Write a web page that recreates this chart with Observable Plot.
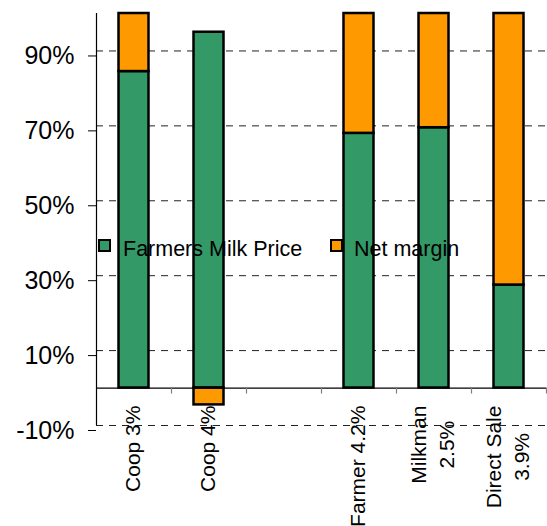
<!DOCTYPE html>
<html>
<head>
<meta charset="utf-8">
<script src="https://cdn.jsdelivr.net/npm/d3@7"></script>
<script src="https://cdn.jsdelivr.net/npm/@observablehq/plot@0.6"></script>
<style>
  html, body { margin: 0; padding: 0; background: #fff; }
  #chart { position: relative; width: 547px; height: 526px; font-family: "Liberation Sans", Arial, sans-serif; }
  .key { position: absolute; font-size: 21.5px; line-height: 21.5px; color: #000; white-space: nowrap; }
  .swatch { position: absolute; width: 13px; height: 13px; box-sizing: border-box; border: 2px solid #000; }
</style>
</head>
<body>
<div id="chart"></div>
<script>
// Share of the retail milk price, by sales channel
const categories = ["Coop 3%", "Coop 4%", "", "Farmer 4.2%", "Milkman\n2.5%", "Direct Sale\n3.9%"];
const milkPrice  = [84.5, 95, null, 68, 69.5, 27.5];   // Farmers Milk Price (%)
const netMargin  = [15.5, -4.5, null, 32, 30.5, 72.5]; // Net margin (%)
const yTicks     = [-10, 10, 30, 50, 70, 90];
const seriesNames = ["Farmers Milk Price", "Net margin"];
const seriesColors = ["#339966", "#FF9900"];

// Stacked segments: positives stack upward from zero, negatives hang below it
const segments = [];
categories.forEach((c, i) => {
  const p = milkPrice[i], m = netMargin[i];
  if (p == null) return;
  segments.push({i, series: seriesNames[0], y1: 0, y2: p});
  if (m >= 0) segments.push({i, series: seriesNames[1], y1: p, y2: p + m});
  else segments.push({i, series: seriesNames[1], y1: 0, y2: m});
});
const boundaries = d3.range(1, categories.length + 1);

const chart = Plot.plot({
  width: 547,
  height: 526,
  marginTop: 13,
  marginBottom: 101,
  marginLeft: 96,
  marginRight: 1,
  style: {fontFamily: "'Liberation Sans', Arial, sans-serif", fontSize: "25px", fontWeight: "normal", color: "#000", background: "#fff"},
  x: {domain: [0, categories.length], axis: null},
  y: {domain: [-10, 100], axis: null},
  color: {domain: seriesNames, range: seriesColors},
  marks: [
    Plot.ruleY(yTicks, {stroke: "#222", strokeDasharray: "7,6", strokeWidth: 1}),
    Plot.rectY(segments, {
      x1: d => d.i + 0.3, x2: d => d.i + 0.7,
      y1: "y1", y2: "y2",
      fill: "series", stroke: "#000", strokeWidth: 2.5
    }),
    Plot.ruleY([0], {stroke: "#000", strokeWidth: 1.2}),
    Plot.ruleX(boundaries, {x: d => d, y1: 0, y2: -1.6, stroke: "#808080", strokeWidth: 1.2}),
    Plot.ruleX([0], {stroke: "#000", strokeWidth: 1.2}),
    Plot.axisY({
      ticks: yTicks, tickFormat: d => d + "%", tickSize: 8, tickPadding: 14,
      fontSize: 25, dy: 5, label: null, color: "#000"
    }),
    Plot.text(categories.map((c, i) => ({c, i})), {
      x: d => d.i + 0.5, y: () => 0, text: "c",
      rotate: -90, textAnchor: "end", lineAnchor: "middle",
      fontSize: 21, lineHeight: 1.33, dx: -3, dy: 17.5, fill: "#000"
    })
  ]
});

const host = document.getElementById("chart");
host.appendChild(chart);

// Centre the lines of multi-line rotated labels on their longest line
chart.querySelectorAll("text[transform*='rotate']").forEach(t => {
  const spans = t.querySelectorAll("tspan");
  if (spans.length < 2) return;
  const L = Math.max(...[...spans].map(s => s.getComputedTextLength()));
  t.setAttribute("text-anchor", "middle");
  spans.forEach(s => s.setAttribute("x", -L / 2));
});

// Legend placed inside the plot area
const keyPos = [{sx: 98, tx: 123}, {sx: 330, tx: 354}];
seriesNames.forEach((name, k) => {
  const sw = document.createElement("div");
  sw.className = "swatch";
  sw.style.left = keyPos[k].sx + "px";
  sw.style.top = "239px";
  sw.style.background = seriesColors[k];
  host.appendChild(sw);
  const lab = document.createElement("div");
  lab.className = "key";
  lab.style.left = keyPos[k].tx + "px";
  lab.style.top = "238.5px";
  lab.textContent = name;
  host.appendChild(lab);
});
</script>
</body>
</html>
